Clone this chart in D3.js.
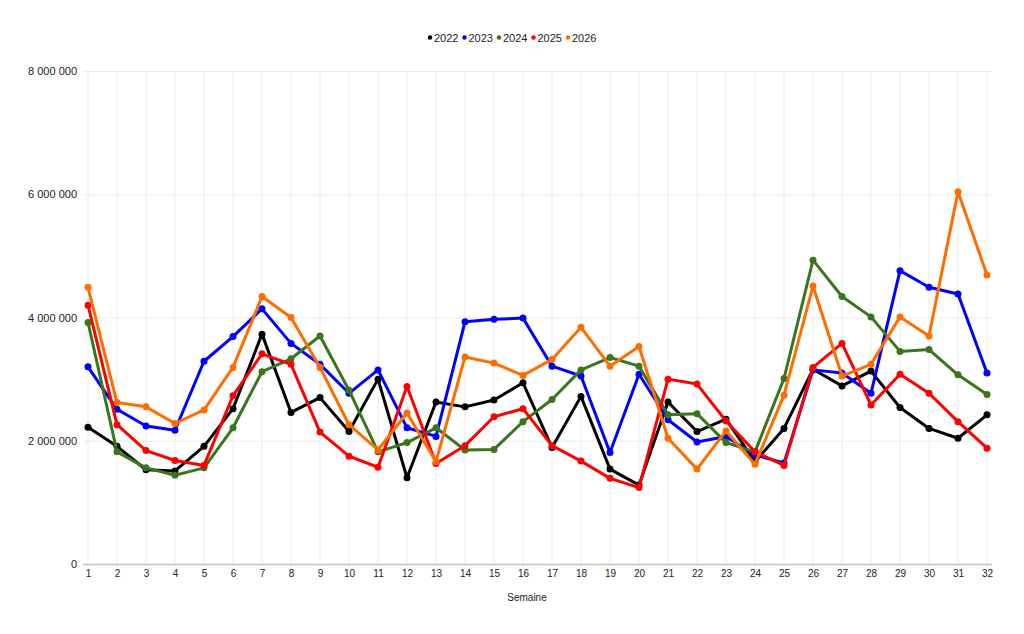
<!DOCTYPE html>
<html>
<head>
<meta charset="utf-8">
<script src="https://cdn.jsdelivr.net/npm/d3@7"></script>
<style>
  body { margin: 0; background: #fff; }
  text { font-family: "Liberation Sans", Arial, sans-serif; }
</style>
</head>
<body>
<div id="chart"></div>
<script>
// weeks and yearly values
var weeks = d3.range(1, 33);
var years = ["2022", "2023", "2024", "2025", "2026"];
var colors = ["#000000", "#0000ff", "#38761d", "#ff0000", "#ff6d01"];
var yTicks = [0, 2000000, 4000000, 6000000, 8000000];

var v2022 = [2220000, 1910000, 1530000, 1510000, 1910000, 2520000, 3730000, 2460000, 2700000, 2150000,
             3000000, 1400000, 2630000, 2550000, 2660000, 2940000, 1890000, 2720000, 1540000, 1280000,
             2630000, 2150000, 2350000, 1660000, 2200000, 3160000, 2890000, 3130000, 2540000, 2200000,
             2040000, 2420000];
var v2023 = [3200000, 2510000, 2240000, 2170000, 3290000, 3690000, 4140000, 3580000, 3240000, 2770000,
             3150000, 2210000, 2070000, 3930000, 3970000, 3990000, 3210000, 3050000, 1810000, 3080000,
             2340000, 1980000, 2070000, 1770000, 1640000, 3150000, 3100000, 2770000, 4760000, 4490000,
             4380000, 3100000];
var v2024 = [3920000, 1820000, 1560000, 1440000, 1560000, 2210000, 3120000, 3330000, 3700000, 2820000,
             1820000, 1970000, 2210000, 1850000, 1860000, 2310000, 2670000, 3150000, 3350000, 3210000,
             2420000, 2440000, 1970000, 1820000, 3010000, 4930000, 4340000, 4010000, 3450000, 3480000,
             3070000, 2750000];
var v2025 = [4200000, 2260000, 1840000, 1680000, 1600000, 2730000, 3410000, 3240000, 2140000, 1750000,
             1570000, 2880000, 1630000, 1920000, 2390000, 2520000, 1920000, 1670000, 1390000, 1240000,
             3000000, 2920000, 2320000, 1820000, 1600000, 3190000, 3580000, 2580000, 3080000, 2770000,
             2310000, 1880000];
var v2026 = [4490000, 2620000, 2550000, 2280000, 2500000, 3190000, 4340000, 4000000, 3190000, 2260000,
             1850000, 2450000, 1660000, 3360000, 3260000, 3060000, 3320000, 3840000, 3210000, 3530000,
             2040000, 1540000, 2160000, 1620000, 2740000, 4510000, 3050000, 3240000, 4010000, 3700000,
             6040000, 4690000];
var series = [v2022, v2023, v2024, v2025, v2026];

var width = 1024, height = 634;

var svg = d3.select("#chart")
  .append("svg")
    .attr("width", width)
    .attr("height", height);

var x = d3.scalePoint()
  .domain(weeks)
  .range([88, 987]);

var y = d3.scaleLinear()
  .domain([0, 8000000])
  .range([564, 71]);

var fmt = function(d) { return d3.format(",")(d).replace(/,/g, " "); };

// vertical grid
svg.append("g")
  .selectAll("line")
  .data(weeks)
  .enter()
  .append("line")
    .attr("x1", function(d) { return x(d); })
    .attr("x2", function(d) { return x(d); })
    .attr("y1", y(8000000))
    .attr("y2", y(0))
    .style("stroke", "#ebebeb")
    .style("stroke-width", 1);

// horizontal grid + y labels
var yAxis = svg.append("g")
  .attr("transform", "translate(83,0)")
  .call(d3.axisLeft(y).tickValues(yTicks).tickSize(-909).tickPadding(6).tickFormat(fmt));
yAxis.select(".domain").remove();
yAxis.selectAll(".tick line")
  .style("stroke", function(d) { return d === 0 ? "#c4c4c4" : "#ebebeb"; })
  .style("stroke-width", function(d) { return d === 0 ? 1.5 : 1; });
yAxis.selectAll(".tick text")
  .style("font-size", "11px")
  .style("fill", "#222")
  .attr("x", -6);

// x labels
var xAxis = svg.append("g")
  .attr("transform", "translate(0,564)")
  .call(d3.axisBottom(x).tickSize(0).tickPadding(6));
xAxis.select(".domain").remove();
xAxis.selectAll(".tick text")
  .style("font-size", "10px")
  .style("fill", "#222");

// x title
svg.append("text")
  .attr("x", 527)
  .attr("y", 601)
  .attr("text-anchor", "middle")
  .style("font-size", "10px")
  .style("fill", "#222")
  .text("Semaine");

// lines and points
var line = d3.line()
  .x(function(d, i) { return x(weeks[i]); })
  .y(function(d) { return y(d); });

series.forEach(function(vals, k) {
  svg.append("path")
    .datum(vals)
    .attr("d", line)
    .style("fill", "none")
    .style("stroke", colors[k])
    .style("stroke-width", 3)
    .style("stroke-linejoin", "round");
  svg.append("g")
    .selectAll("circle")
    .data(vals)
    .enter()
    .append("circle")
      .attr("cx", function(d, i) { return x(weeks[i]); })
      .attr("cy", function(d) { return y(d); })
      .attr("r", 3.5)
      .style("fill", colors[k]);
});

// legend
var legend = svg.append("g");
years.forEach(function(yr, k) {
  var lx = 430 + k * 34.5;
  legend.append("circle")
    .attr("cx", lx)
    .attr("cy", 37.5)
    .attr("r", 2.2)
    .style("fill", colors[k]);
  legend.append("text")
    .attr("x", lx + 4)
    .attr("y", 41.5)
    .style("font-size", "11px")
    .style("fill", "#222")
    .text(yr);
});
</script>
</body>
</html>
